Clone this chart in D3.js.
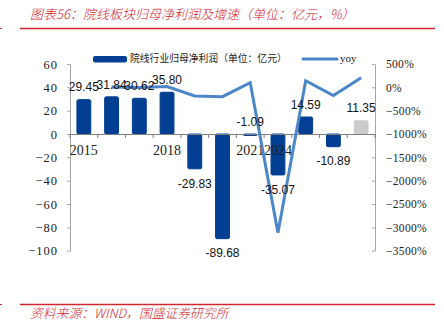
<!DOCTYPE html>
<html><head><meta charset="utf-8">
<script src="https://cdn.jsdelivr.net/npm/d3@7"></script>
<style>
html,body{margin:0;padding:0;background:#fff;}
svg{display:block;}
</style></head>
<body>
<svg id="c" width="444" height="322"></svg>
<script>
// ---- data ----
const categories = ["2015","2016","2017","2018","2019","2020","2021","2022","2023","2024","2025E"];
const xTickLabels = ["2015","","","2018","","","2021","2024","","",""];
const profit = [29.45, 31.84, 30.62, 35.80, -29.83, -89.68, -1.09, -35.07, 14.59, -10.89, 11.35];
const estimated = [false,false,false,false,false,false,false,false,false,false,true];
const yoy = [null, 8.1, -3.8, 16.9, -183.3, -200.6, 98.8, -3117.4, 141.6, -174.6, 204.2];
const leftTicks = [60, 40, 20, 0, -20, -40, -60, -80, -100];
const rightTicks = [500, 0, -500, -1000, -1500, -2000, -2500, -3000, -3500];
const titleText = "图表56：院线板块归母净利润及增速（单位：亿元，%）";
const sourceText = "资料来源：WIND，国盛证券研究所";
const legendBar = "院线行业归母净利润（单位：亿元）";
const legendLine = "yoy";

// ---- styles ----
const RED = "#d0262f", BAR = "#023e92", GREY_BAR = "#cbcbcb", LINE = "#4a86c8";
const svg = d3.select("#c");

// title & frame lines
svg.append("text").attr("x", 30).attr("y", 19)
  .attr("font-family", "Noto Sans CJK SC").attr("font-size", 13).attr("font-style", "italic")
  .attr("font-weight", 300).attr("fill", RED).text(titleText);
svg.append("line").attr("x1", 20).attr("x2", 435).attr("y1", 28.5).attr("y2", 28.5)
  .attr("stroke", RED).attr("stroke-width", 1.3);
svg.append("line").attr("x1", 0).attr("x2", 2).attr("y1", 28.5).attr("y2", 28.5)
  .attr("stroke", RED).attr("stroke-width", 1);
svg.append("line").attr("x1", 20).attr("x2", 435).attr("y1", 304.5).attr("y2", 304.5)
  .attr("stroke", RED).attr("stroke-width", 1.3);
svg.append("line").attr("x1", 0).attr("x2", 2).attr("y1", 304.5).attr("y2", 304.5)
  .attr("stroke", RED).attr("stroke-width", 1);
svg.append("text").attr("x", 30).attr("y", 318)
  .attr("font-family", "Noto Sans CJK SC").attr("font-size", 12.8).attr("font-style", "italic")
  .attr("font-weight", 300).attr("fill", RED).text(sourceText);

// ---- scales ----
const x = d3.scaleBand().domain(categories).range([70, 375]).padding(0);
const yL = d3.scaleLinear().domain([-100, 60]).range([250.7, 64]);
const yR = d3.scaleLinear().domain([-3500, 500]).range([250.7, 64]);
const bw = x.bandwidth() * 0.5;
const cx = c => x(c) + x.bandwidth() / 2;
const fmtMinus = s => String(s).replace("-", "−");

// left axis
const gL = svg.append("g").attr("transform", "translate(70,0)")
  .call(d3.axisLeft(yL).tickValues(leftTicks).tickSize(3).tickSizeOuter(0).tickPadding(9)
    .tickFormat(d => fmtMinus(d)));
gL.select(".domain").attr("stroke", "#a6a6a6");
gL.selectAll(".tick line").attr("stroke", "#a6a6a6");
gL.selectAll(".tick text").attr("font-family", "Liberation Serif").attr("font-size", 12.5)
  .attr("letter-spacing", 1).attr("fill", "#222");

// right axis
const gR = svg.append("g").attr("transform", "translate(375,0)")
  .call(d3.axisRight(yR).tickValues(rightTicks).tickSize(-3).tickSizeOuter(0).tickPadding(11)
    .tickFormat(d => fmtMinus(d) + "%"));
gR.select(".domain").attr("stroke", "#a6a6a6");
gR.selectAll(".tick line").attr("stroke", "#a6a6a6");
gR.selectAll(".tick text").attr("font-family", "Liberation Serif").attr("font-size", 11.5)
  .attr("letter-spacing", 0.3).attr("fill", "#222");

// bars
svg.append("g").selectAll("rect").data(categories).join("rect")
  .attr("x", (c) => cx(c) - bw / 2)
  .attr("width", bw)
  .attr("y", (c, i) => Math.min(yL(profit[i]), yL(0)))
  .attr("height", (c, i) => Math.max(1.5, Math.abs(yL(profit[i]) - yL(0))))
  .attr("rx", 1.5)
  .attr("fill", (c, i) => estimated[i] ? GREY_BAR : BAR)
  .attr("stroke", (c, i) => estimated[i] ? GREY_BAR : BAR).attr("stroke-width", 1);

// zero line (category axis)
const gX = svg.append("g").attr("transform", `translate(0,${yL(0)})`)
  .call(d3.axisBottom(x).tickSize(0).tickFormat(""));
gX.select(".domain").attr("stroke", "#7f7f7f");
const bounds = categories.map(c => x(c)).concat([x.range()[1]]);
svg.append("g").selectAll("line").data(bounds).join("line")
  .attr("x1", d => d).attr("x2", d => d).attr("y1", yL(0)).attr("y2", yL(0) + 4)
  .attr("stroke", "#7f7f7f");
svg.append("g").selectAll("text").data(categories).join("text")
  .attr("x", c => cx(c)).attr("y", yL(0) + 16.5).attr("dy", "0.35em")
  .attr("text-anchor", "middle").attr("font-family", "Liberation Serif")
  .attr("font-size", 14).attr("fill", "#222")
  .text((c, i) => xTickLabels[i]);

// yoy line
const line = d3.line().defined(d => d.v !== null).x(d => cx(d.c)).y(d => yR(d.v));
svg.append("path").datum(categories.map((c, i) => ({c, v: yoy[i]})))
  .attr("d", line).attr("fill", "none").attr("stroke", LINE).attr("stroke-width", 3);

// data labels
svg.append("g").selectAll("text").data(categories).join("text")
  .attr("x", c => cx(c))
  .attr("y", (c, i) => {
    const v = profit[i];
    if (v >= 0 || Math.abs(v) < 2) return Math.min(yL(v), yL(0)) - 12.5;
    return yL(v) + 14.5;
  })
  .attr("dy", "0.35em").attr("text-anchor", "middle")
  .attr("font-family", "Liberation Sans").attr("font-size", 12).attr("fill", "#111")
  .text((c, i) => profit[i].toFixed(2));

// legend
const lg = svg.append("g");
lg.append("rect").attr("x", 93).attr("y", 56).attr("width", 34).attr("height", 6.5).attr("rx", 2).attr("fill", BAR);
lg.append("text").attr("x", 130).attr("y", 59).attr("dy", "0.35em")
  .attr("font-family", "Noto Sans CJK SC").attr("font-size", 9.8).attr("fill", "#222").text(legendBar);
lg.append("line").attr("x1", 303).attr("x2", 337).attr("y1", 59).attr("y2", 59)
  .attr("stroke", LINE).attr("stroke-width", 3).attr("stroke-linecap", "round");
lg.append("text").attr("x", 340).attr("y", 59).attr("dy", "0.3em")
  .attr("font-family", "Liberation Serif").attr("font-size", 11).attr("fill", "#222").text(legendLine);
</script>
</body></html>
